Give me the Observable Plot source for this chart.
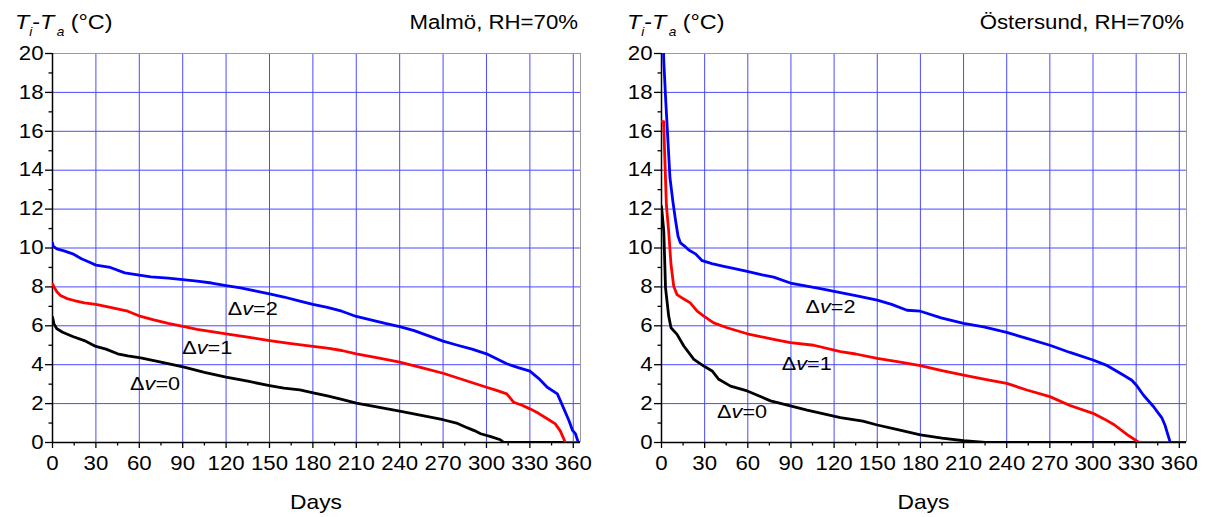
<!DOCTYPE html>
<html>
<head>
<meta charset="utf-8">
<script src="https://cdn.jsdelivr.net/npm/d3@7"></script>
<script src="https://cdn.jsdelivr.net/npm/@observablehq/plot@0.6"></script>
<style>
  html, body { margin: 0; padding: 0; background: #fff; }
  #wrap { display: flex; width: 1207px; height: 517px; }
</style>
</head>
<body>
<div id="wrap"></div>
<script>
// ---------- data (day, Ti-Ta °C) ----------
const xTicks = [0, 30, 60, 90, 120, 150, 180, 210, 240, 270, 300, 330, 360];
const xMinor = [15, 45, 75, 105, 135, 165, 195, 225, 255, 285, 315, 345];
const yTicks = [0, 2, 4, 6, 8, 10, 12, 14, 16, 18, 20];
const yMinor = [1, 3, 5, 7, 9, 11, 13, 15, 17, 19];

const malmoTitle = "Malmö, RH=70%";
const ostersundTitle = "Östersund, RH=70%";
const seriesNames = ["0", "1", "2"];

const malmoDv0 = [[0,6.45],[1,6.1],[3,5.85],[7,5.67],[14,5.45],[22,5.24],[30,4.94],[37,4.8],[45,4.56],[52,4.45],[61,4.35],[75,4.13],[91,3.87],[105,3.6],[120,3.36],[135,3.15],[150,2.93],[160,2.8],[171,2.71],[181,2.54],[190,2.4],[200,2.22],[210,2.02],[225,1.82],[240,1.61],[255,1.4],[270,1.17],[280,0.98],[287,0.75],[292,0.6],[296,0.45],[303,0.3],[309.6,0.14],[312,0],[365,0]];
const malmoDv1 = [[0,8.15],[1,8.0],[3,7.75],[5.5,7.56],[10,7.4],[15,7.3],[22,7.18],[30,7.1],[40,6.95],[52,6.75],[61,6.48],[70,6.3],[80,6.12],[91,5.96],[100,5.82],[110,5.7],[120,5.59],[135,5.42],[150,5.24],[165,5.08],[180,4.94],[190,4.85],[200,4.73],[210,4.56],[225,4.35],[240,4.13],[255,3.85],[270,3.56],[285,3.2],[300,2.84],[307,2.68],[314,2.5],[318.8,2.07],[325,1.9],[330,1.73],[336,1.5],[342,1.22],[347.6,0.96],[351,0.6],[353.4,0.19],[354.5,0],[365,0]];
const malmoDv2 = [[0,10.25],[0.5,10.1],[3,9.95],[8,9.85],[14,9.7],[20,9.45],[26,9.25],[30,9.12],[40,9.0],[50,8.72],[60,8.6],[68,8.52],[80,8.45],[90,8.37],[100,8.3],[110,8.2],[120,8.07],[130,7.95],[140,7.8],[150,7.64],[160,7.48],[171,7.27],[180,7.1],[190,6.95],[200,6.75],[210,6.48],[220,6.3],[230,6.12],[240,5.96],[250,5.75],[260,5.48],[270,5.21],[280,5.0],[290,4.8],[300,4.56],[307,4.3],[314,4.05],[322,3.85],[330,3.67],[336,3.3],[342,2.84],[349,2.5],[353,1.82],[357,1.13],[359.5,0.62],[361.5,0.45],[363.5,0],[365,0]];

const ostDv0 = [[0,12.14],[1.6,10.85],[2.8,7.95],[5,6.5],[6.6,5.9],[10.8,5.56],[15.5,4.96],[22.5,4.27],[29.4,3.93],[35.2,3.68],[39.8,3.25],[48,2.9],[59.6,2.65],[75.8,2.14],[89.6,1.88],[101.2,1.66],[124.4,1.28],[140,1.1],[150,0.9],[165,0.65],[180,0.39],[195,0.22],[210,0.09],[225,0],[365,0]];
const ostDv1 = [[0,16.5],[1.5,16.5],[2,15.3],[3.4,12.2],[5,10.85],[6.6,9.15],[8.5,8.03],[10.8,7.6],[15,7.4],[20,7.18],[24.8,6.75],[29.4,6.5],[36.3,6.15],[45.6,5.9],[59.6,5.59],[78,5.3],[89.6,5.13],[105.8,5.0],[124.4,4.67],[135,4.55],[150,4.32],[165,4.15],[180,3.95],[195,3.7],[210,3.47],[225,3.25],[240,3.04],[254,2.7],[270,2.36],[284,1.9],[300,1.5],[308,1.2],[315,0.9],[324,0.39],[332,0],[365,0]];
const ostDv2 = [[0,24],[1.6,19.6],[3,17.5],[4,16.15],[5,14.8],[5.9,13.6],[7.9,12.4],[9.8,11.4],[11.5,10.6],[13.2,10.26],[16,10.1],[19,9.9],[23.6,9.7],[28.3,9.35],[35,9.2],[43.3,9.06],[50,8.95],[59.6,8.8],[70,8.62],[78,8.5],[89.6,8.2],[100,8.05],[110.5,7.91],[124.4,7.7],[135,7.55],[150,7.32],[160,7.1],[170.7,6.8],[180,6.75],[194.4,6.41],[210,6.12],[224,5.95],[240,5.66],[254,5.35],[270,5.0],[284,4.63],[300,4.24],[310,3.95],[321,3.47],[327,3.2],[330,2.96],[335,2.44],[342,1.85],[348,1.25],[350,0.9],[353.7,0],[365,0]];

// label anchors for the Δv annotations (day, value)
const malmoLabelAt = [[54, 3.0], [90, 4.88], [121.5, 6.86]];
const ostLabelAt = [[39, 1.57], [84, 4.04], [100.5, 6.96]];

const colors = ["black", "#ff0000", "#0000ff"];
const FONT = "'Liberation Sans', Arial, Helvetica, sans-serif";
const SX = 1.14; // horizontal stretch of the original lettering

function stretchTexts(svg) {
  d3.select(svg).selectAll("text").each(function () {
    const x = this.getAttribute("x");
    let t = this.getAttribute("transform") || "";
    if (x != null && isFinite(+x)) {
      t += ` translate(${+x},0)`;
      this.removeAttribute("x");
    }
    this.setAttribute("transform", t + ` scale(${SX},1)`);
  });
}

function panel({series, title, labelAt, width, marginLeft, marginRight, titleX}) {
  const lines = series.map((s, i) =>
    Plot.line(s, {x: d => d[0], y: d => d[1], stroke: colors[i], strokeWidth: 2.8, clip: true, strokeLinejoin: "round"}));
  const svg = Plot.plot({
    width, height: 517,
    marginLeft, marginRight, marginTop: 53, marginBottom: 75,
    x: {domain: [0, 365]},
    y: {domain: [0, 20]},
    style: {fontFamily: FONT, fontSize: "19.5px", color: "black", background: "white", overflow: "visible"},
    marks: [
      Plot.gridX(xTicks.slice(1), {stroke: "#4a4aff", strokeOpacity: 1, strokeWidth: 1}),
      Plot.gridY(yTicks.slice(1, -1), {stroke: "#4a4aff", strokeOpacity: 1, strokeWidth: 1}),
      Plot.ruleY([20], {stroke: "#9a9a9a"}),
      Plot.ruleX([365], {stroke: "#9a9a9a"}),
      Plot.axisX(xMinor, {tickSize: 3.5, text: null, label: null, strokeWidth: 1.3}),
      Plot.axisX(xTicks, {tickSize: 6, tickPadding: 8, label: null, strokeWidth: 1.3}),
      Plot.axisY(yMinor, {tickSize: 3.5, text: null, label: null, strokeWidth: 1.3}),
      Plot.axisY(yTicks, {tickSize: 7, tickPadding: 2, label: null, strokeWidth: 1.3}),
      Plot.ruleX([0], {strokeWidth: 1.5}),
      Plot.ruleY([0], {strokeWidth: 1.5}),
      ...lines
    ]
  });
  const sx = svg.scale("x"), sy = svg.scale("y");
  const g = d3.select(svg).append("g").attr("font-family", FONT).attr("fill", "black").attr("text-anchor", "start");

  // Δv labels
  labelAt.forEach(([d, v], i) => {
    const t = g.append("text")
      .attr("transform", `translate(${sx.apply(d)},${sy.apply(v)})`)
      .attr("dy", "0.36em").attr("font-size", "19px").attr("text-anchor", "start");
    t.append("tspan").text("Δ");
    t.append("tspan").attr("font-style", "italic").text("v");
    t.append("tspan").text("=" + seriesNames[i]);
  });

  // y title
  const yt = g.append("text").attr("transform", `translate(${titleX},29)`).attr("font-size", "20.5px").attr("text-anchor", "start");
  yt.append("tspan").attr("font-style", "italic").text("T");
  yt.append("tspan").attr("font-style", "italic").attr("font-size", "12px").attr("dy", 7).text("i");
  yt.append("tspan").attr("dy", -7).text("-");
  yt.append("tspan").attr("font-style", "italic").text("T");
  yt.append("tspan").attr("font-style", "italic").attr("font-size", "12px").attr("dy", 7).attr("dx", 2).text("a");
  yt.append("tspan").attr("dy", -7).text(" (°C)");

  // panel title
  g.append("text").attr("transform", `translate(${width - marginRight - 2},29)`)
    .attr("text-anchor", "end").attr("font-size", "19.5px").text(title);

  // x label
  g.append("text").attr("transform", `translate(${(marginLeft + width - marginRight) / 2},509)`)
    .attr("text-anchor", "middle").attr("font-size", "20px").text("Days");

  stretchTexts(svg);
  return svg;
}

const wrap = document.getElementById("wrap");
wrap.appendChild(panel({series: [malmoDv0, malmoDv1, malmoDv2], title: malmoTitle, labelAt: malmoLabelAt,
  width: 603, marginLeft: 52, marginRight: 23, titleX: 15}));
wrap.appendChild(panel({series: [ostDv0, ostDv1, ostDv2], title: ostersundTitle, labelAt: ostLabelAt,
  width: 604, marginLeft: 58, marginRight: 21, titleX: 24}));
</script>
</body>
</html>
